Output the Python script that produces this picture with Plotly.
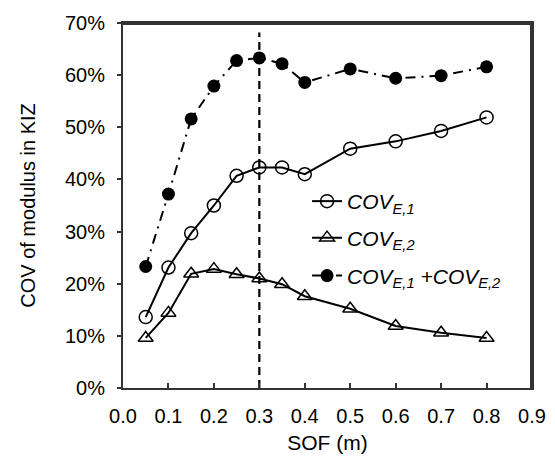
import plotly.graph_objects as go

sof = [0.05, 0.10, 0.15, 0.20, 0.25, 0.30, 0.35, 0.40, 0.50, 0.60, 0.70, 0.80]
cov_e1 = [0.136, 0.231, 0.297, 0.350, 0.407, 0.423, 0.423, 0.410, 0.459, 0.473, 0.493, 0.519]
cov_e2 = [0.096, 0.144, 0.219, 0.228, 0.218, 0.210, 0.199, 0.176, 0.152, 0.119, 0.106, 0.096]
cov_sum = [0.233, 0.372, 0.516, 0.579, 0.628, 0.633, 0.622, 0.586, 0.612, 0.594, 0.599, 0.616]
x_ticks = [0.0, 0.1, 0.2, 0.3, 0.4, 0.5, 0.6, 0.7, 0.8, 0.9]
y_ticks = [0.0, 0.1, 0.2, 0.3, 0.4, 0.5, 0.6, 0.7]
x_range = [0, 0.9]
y_range = [0, 0.7]
vline_x = 0.3
vline_top = 0.682

FONT = "Liberation Sans, Arial, sans-serif"

fig = go.Figure()
fig.add_trace(go.Scatter(
    x=sof, y=cov_sum, mode="lines+markers",
    name="<i>COV<sub>E,1</sub> +COV<sub>E,2</sub></i>",
    line=dict(color="black", width=2, dash="10px,6px,2px,6px"),
    marker=dict(symbol="circle", size=13, color="black"),
    legend="legend3"))
fig.add_trace(go.Scatter(
    x=sof, y=cov_e1, mode="lines+markers",
    name="<i>COV<sub>E,1</sub></i>",
    line=dict(color="black", width=2),
    marker=dict(symbol="circle-open", size=13, color="black", line=dict(width=1.5)),
    legend="legend"))
fig.add_trace(go.Scatter(
    x=sof, y=cov_e2, mode="lines+markers",
    name="<i>COV<sub>E,2</sub></i>",
    line=dict(color="black", width=2),
    marker=dict(symbol="triangle-up-open", size=13, color="black", line=dict(width=1.5)),
    legend="legend2"))

fig.add_shape(type="line", xref="x", yref="y", x0=vline_x, x1=vline_x, y0=0, y1=vline_top,
              line=dict(color="black", width=2.2, dash="8px,5px"), layer="below")
# plot frame: top and right edges in data coordinates
fig.add_shape(type="line", xref="x", yref="y", x0=x_range[1], x1=x_range[1],
              y0=y_range[0], y1=y_range[1], line=dict(color="#333", width=4), layer="above")
fig.add_shape(type="line", xref="x", yref="y", x0=x_range[0], x1=x_range[1],
              y0=y_range[1], y1=y_range[1], line=dict(color="#333", width=4), layer="above")

leg_common = dict(bgcolor="rgba(0,0,0,0)", font=dict(family=FONT, size=21, color="black"),
                  xanchor="left", yanchor="middle", xref="paper", yref="paper")
fig.update_layout(
    width=555, height=458,
    margin=dict(l=123, r=23, t=23, b=70, autoexpand=False),
    plot_bgcolor="white", paper_bgcolor="white",
    font=dict(family=FONT, size=20, color="black"),
    showlegend=True,
    legend=dict(x=0.45, y=0.511, **leg_common),
    legend2=dict(x=0.45, y=0.411, **leg_common),
    legend3=dict(x=0.45, y=0.307, **leg_common),
    xaxis=dict(range=x_range, tickvals=x_ticks, tickformat=".1f",
               ticks="inside", ticklen=5, tickwidth=1.5, tickcolor="#333",
               ticklabelstandoff=9, automargin=False,
               showline=True, linecolor="#333", linewidth=2, mirror=True,
               showgrid=False, zeroline=False,
               title=dict(text="SOF (m)", font=dict(size=21), standoff=9),
               tickfont=dict(size=20)),
    yaxis=dict(range=y_range, tickvals=y_ticks, tickformat=".0%",
               ticks="outside", ticklen=4, tickwidth=1.5, tickcolor="#333",
               ticklabelstandoff=8, automargin=False,
               showline=True, linecolor="#333", linewidth=2, mirror=True,
               showgrid=False, zeroline=False,
               title=dict(text="COV of modulus in KIZ", font=dict(size=20), standoff=24),
               tickfont=dict(size=20)),
)
fig.write_html("out.html", config={"displayModeBar": False},
               post_script="document.body.style.margin='0px';")
